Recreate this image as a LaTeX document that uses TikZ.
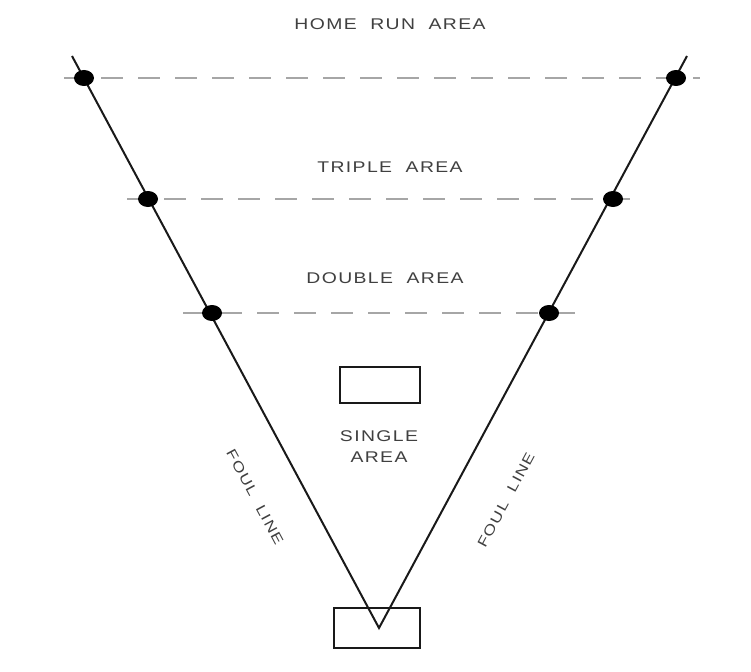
\documentclass[tikz,border=0pt]{standalone}
\usepackage{fontspec}
\setmainfont{Liberation Sans}
\newfontfamily\lblfont[FakeStretch=1.25,LetterSpace=9,WordSpace=2]{Liberation Sans}
\usetikzlibrary{shapes.geometric}
\begin{document}
\begin{tikzpicture}[x=1pt,y=-1pt,
  dot/.style={ellipse,fill=black,draw=none,minimum width=20pt,minimum height=16pt,inner sep=0pt},
  foul/.style={line width=2pt,draw=black!90},
  dashline/.style={draw=black!35,line width=1.4pt,dash pattern=on 22pt off 15pt},
  area/.style={font=\lblfont\fontsize{15.5}{21}\selectfont,text=black!75,inner sep=0pt,align=center},
  foultxt/.style={font=\lblfont\fontsize{14}{15}\selectfont,text=black!75,inner sep=0pt},
  box/.style={draw=black!90,line width=2pt,fill=white,inner sep=0pt}]
\useasboundingbox (0,0) rectangle (751,671);
\fill[white] (0,0) rectangle (751,671);
% labels
\node[area] (hr) at (390,24) {HOME RUN AREA};
\node[area] (tr) at (390,167) {TRIPLE AREA};
\node[area] (db) at (385,278) {DOUBLE AREA};
\node[area] (sg) at (379,447) {SINGLE\\AREA};
% boxes
\node[box,minimum width=80pt,minimum height=36pt] (base) at (380,385) {};
\node[box,minimum width=86pt,minimum height=40pt] (home) at (377,628) {};
% coordinates
\coordinate (lt) at (72,56);
\coordinate (rt) at (687,56);
\coordinate (v) at (379,628);
\coordinate (d1a) at (64,78);   \coordinate (d1b) at (700,78);
\coordinate (d2a) at (127,199); \coordinate (d2b) at (636,199);
\coordinate (d3a) at (183,313); \coordinate (d3b) at (577,313);
% dashed lines
\draw[dashline] (d1a) -- (d1b);
\draw[dashline] (d2a) -- (d2b);
\draw[dashline] (d3a) -- (d3b);
% foul lines
\draw[foul] (lt) -- (v) -- (rt);
% dots
\node[dot] (l1) at (84,78) {};
\node[dot] (l2) at (148,199) {};
\node[dot] (l3) at (212,313) {};
\node[dot] (r1) at (676,78) {};
\node[dot] (r2) at (613,199) {};
\node[dot] (r3) at (549,313) {};
% foul line labels
\node[foultxt,rotate=-61.8] (fl) at (255,497) {FOUL LINE};
\node[foultxt,rotate=61.8] (fr) at (506,500) {FOUL LINE};
\end{tikzpicture}
\end{document}
